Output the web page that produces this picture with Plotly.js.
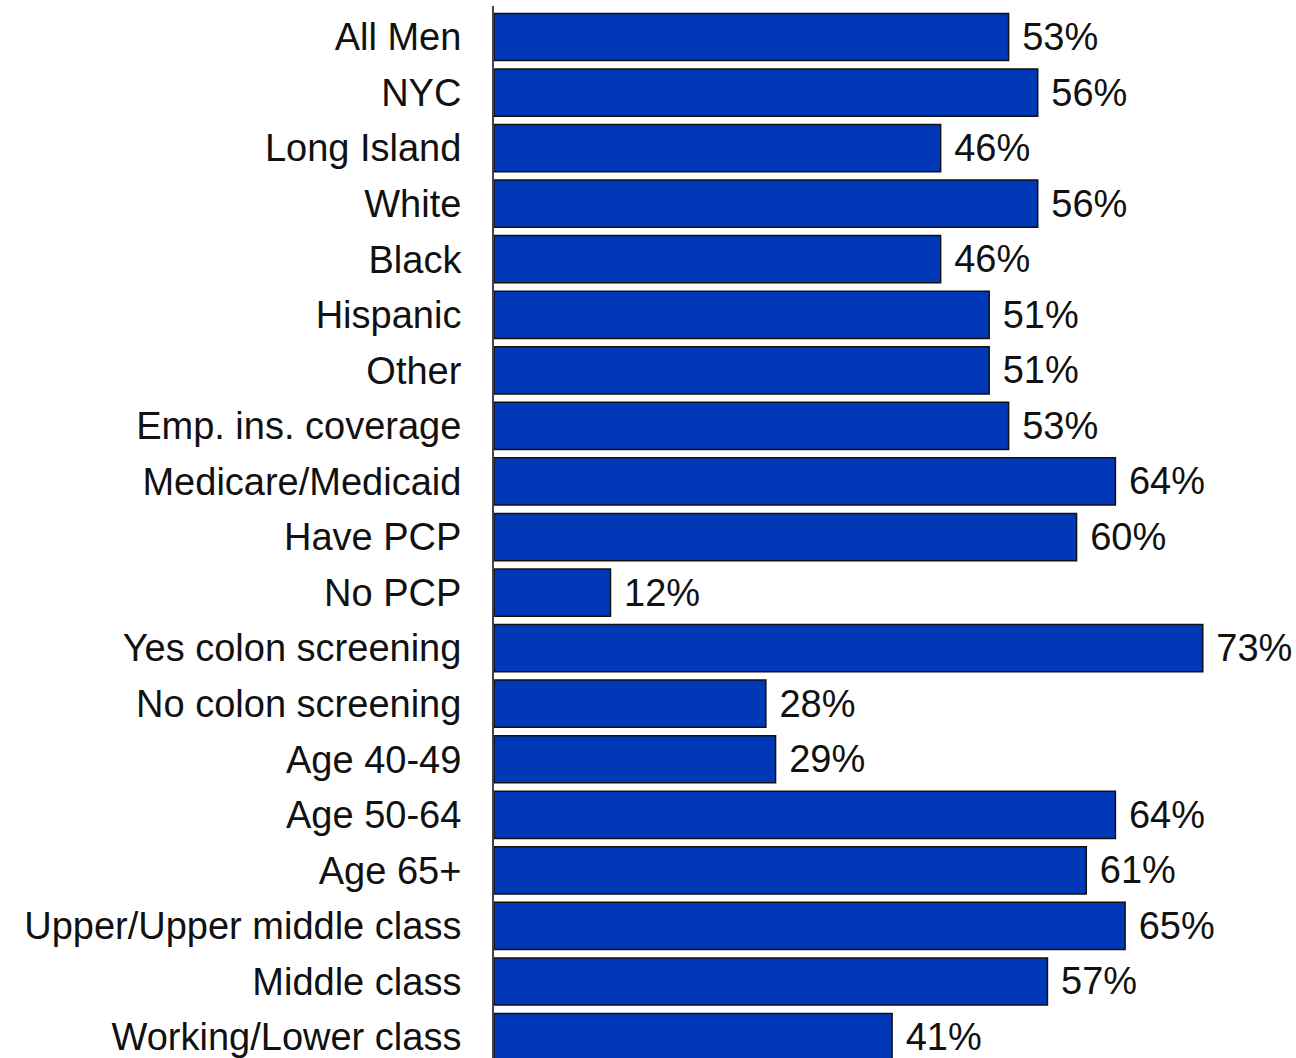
<!DOCTYPE html>
<html>
<head>
<meta charset="utf-8">
<script src="https://cdn.plot.ly/plotly-3.0.1.min.js"></script>
<style>html,body{margin:0;padding:0;background:#fff;}#chart{width:1296px;height:1058px;}</style>
</head>
<body>
<div id="chart"></div>
<script>
const categories = ["All Men","NYC","Long Island","White","Black","Hispanic","Other","Emp. ins. coverage","Medicare/Medicaid","Have PCP","No PCP","Yes colon screening","No colon screening","Age 40-49","Age 50-64","Age 65+","Upper/Upper middle class","Middle class","Working/Lower class"];
const values = [53,56,46,56,46,51,51,53,64,60,12,73,28,29,64,61,65,57,41];

const trace = {
  type: 'bar',
  orientation: 'h',
  y: categories,
  x: values,
  marker: {color: '#0038B8', line: {color: '#111111', width: 1.5}},
  text: values.map(v => ' ' + v + '%'),
  textposition: 'outside',
  textfont: {family: 'Liberation Sans, Arial, sans-serif', size: 38, color: '#111'},
  constraintext: 'none',
  cliponaxis: false,
  hoverinfo: 'skip'
};

const layout = {
  width: 1296, height: 1058,
  margin: {l: 494, r: 0, t: 6, b: 0, pad: 0},
  paper_bgcolor: '#fff', plot_bgcolor: '#fff',
  bargap: 0.15,
  showlegend: false,
  font: {family: 'Liberation Sans, Arial, sans-serif', size: 38, color: '#111'},
  xaxis: {range: [0, 82.6], visible: false, showgrid: false, zeroline: false, fixedrange: true},
  yaxis: {
    type: 'category',
    range: [18.377, -0.558],
    showline: true, linecolor: '#444', linewidth: 2,
    ticks: '', ticklabelstandoff: 23,
    tickfont: {family: 'Liberation Sans, Arial, sans-serif', size: 38, color: '#111'},
    showgrid: false, zeroline: false, fixedrange: true
  }
};

Plotly.newPlot('chart', [trace], layout, {displayModeBar: false, staticPlot: true});
</script>
</body>
</html>
